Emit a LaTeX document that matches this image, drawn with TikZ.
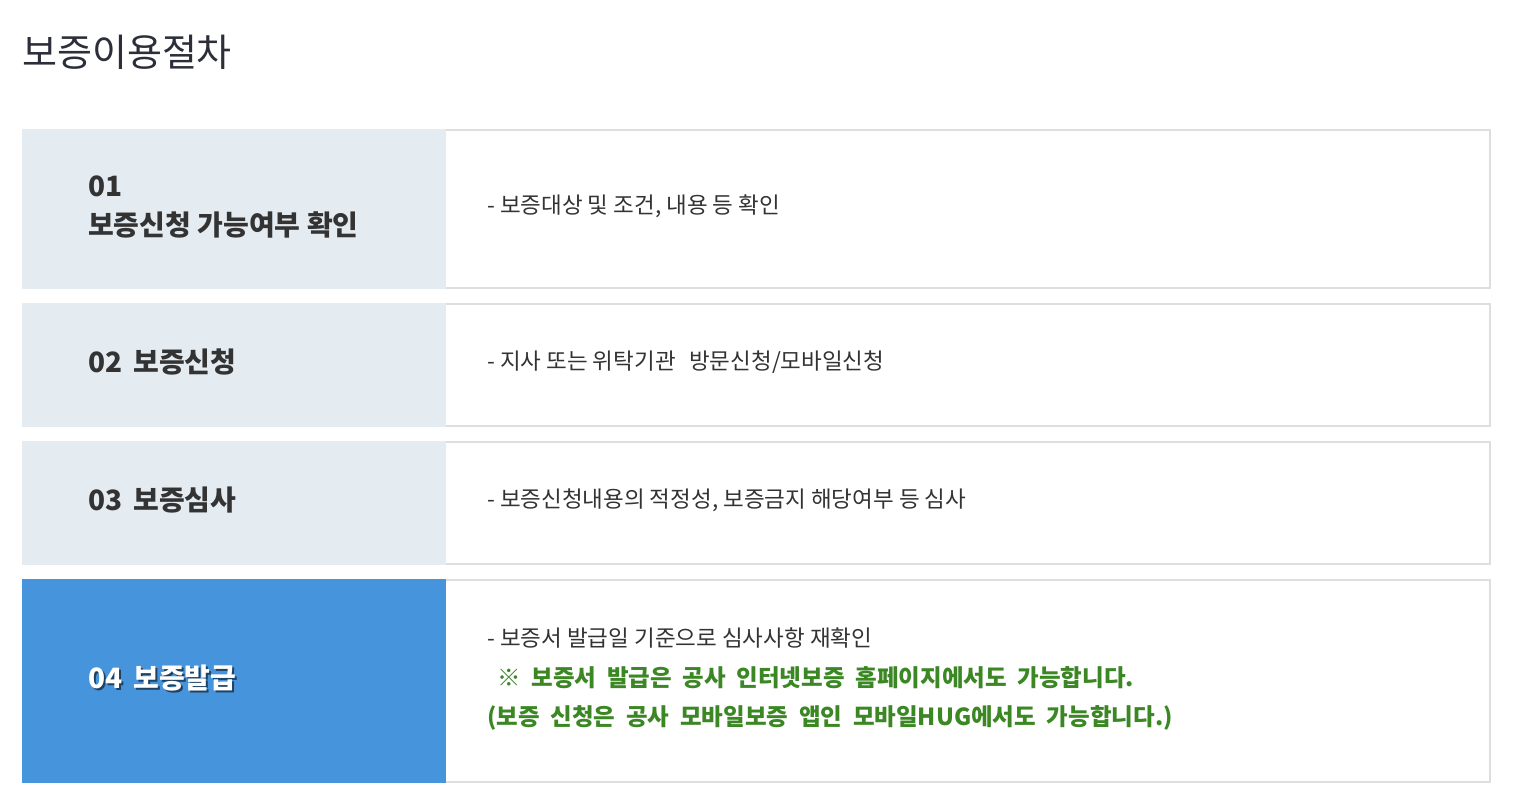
\documentclass[tikz,border=0pt]{standalone}
\usepackage{fontspec}
\setmainfont{Noto Sans CJK KR}
\newfontfamily\widekr[WordSpace=2.0]{Noto Sans CJK KR}
\definecolor{panel}{RGB}{228,235,241}
\definecolor{hilite}{RGB}{70,148,220}
\definecolor{edge}{RGB}{222,222,222}
\definecolor{ink}{RGB}{51,51,51}
\definecolor{titleink}{RGB}{44,47,58}
\definecolor{note}{RGB}{58,135,35}
\tikzset{
  rowbox/.style={draw=edge, line width=2pt, fill=white},
  stepfill/.style={fill=panel},
  stepfillon/.style={fill=hilite},
  steplabel/.style={anchor=west, inner sep=0pt, text=ink, font=\fontsize{28}{40}\selectfont\bfseries, align=left},
  desc/.style={anchor=west, inner sep=0pt, text=ink, font=\fontsize{22.5}{26}\selectfont},
  notetext/.style={anchor=west, inner sep=0pt, text=note, font=\widekr\fontsize{23.5}{26}\selectfont\bfseries},
}
\begin{document}
\begin{tikzpicture}[x=1pt,y=-1pt]
\useasboundingbox (0,0) rectangle (1518,811);
\fill[white] (0,0) rectangle (1518,811);
% title
\node[anchor=west, inner sep=0pt, text=titleink, font=\fontsize{38}{42}\selectfont] (title) at (22,52) {보증이용절차};
% row frames
\draw[rowbox] (23,130) rectangle (1490,288);
\draw[rowbox] (23,304) rectangle (1490,426);
\draw[rowbox] (23,442) rectangle (1490,564);
\draw[rowbox] (23,580) rectangle (1490,782);
% left panels
\fill[stepfill] (22,129) rectangle (446,289);
\fill[stepfill] (22,303) rectangle (446,427);
\fill[stepfill] (22,441) rectangle (446,565);
\fill[stepfillon] (22,579) rectangle (446,783);
% step labels
\node[steplabel] (s1num) at (88,186) {01};
\node[steplabel] (s1) at (88,225) {보증신청 가능여부 확인};
\node[steplabel] (s2) at (88,362) {02\hspace{0.4em}보증신청};
\node[steplabel] (s3) at (88,500) {03\hspace{0.4em}보증심사};
\node[steplabel, text=black, opacity=0.55] (s4shadow) at (90,680) {04\hspace{0.4em}보증발급};
\node[steplabel, text=white] (s4) at (88,678) {04\hspace{0.4em}보증발급};
% descriptions
\node[desc] (d1) at (487,206) {- 보증대상 및 조건, 내용 등 확인};
\node[desc] (d2) at (487,362) {- 지사 또는 위탁기관\hspace{0.6em}방문신청/모바일신청};
\node[desc] (d3) at (487,500) {- 보증신청내용의 적정성, 보증금지 해당여부 등 심사};
\node[desc] (d4) at (487,638) {- 보증서 발급일 기준으로 심사사항 재확인};
\node[notetext] (n1) at (497,678) {※ 보증서 발급은 공사 인터넷보증 홈페이지에서도 가능합니다.};
\node[notetext] (n2) at (487,718) {(보증 신청은 공사 모바일보증 앱인 모바일HUG에서도 가능합니다.)};
\end{tikzpicture}
\end{document}
